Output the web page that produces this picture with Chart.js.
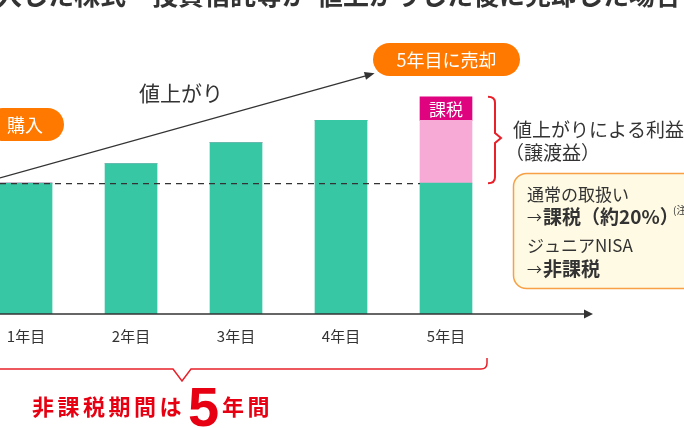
<!DOCTYPE html>
<html>
<head>
<meta charset="utf-8">
<script src="https://cdn.jsdelivr.net/npm/chart.js@4"></script>
<style>
  html, body { margin: 0; padding: 0; background: #fff; }
  #wrap { width: 684px; height: 428px; }
</style>
</head>
<body>
<div id="wrap"><canvas id="nisa-canvas" width="684" height="428"></canvas></div>
<script>
var years = [1, 2, 3, 4, 5];
var yearLabels = ["1年目", "2年目", "3年目", "4年目", "5年目"];
var principal = [100, 115, 131, 148, 100];   // 緑の棒
var gain = [0, 0, 0, 0, 48];                 // 値上がり益（ピンク）
var taxTag = [0, 0, 0, 0, 18];               // 「課税」の帯

var JP = '"Noto Sans CJK JP", "Noto Sans", sans-serif';

function pts(arr) {
    return years.map(function(x, i) { return { x: x, y: arr[i] }; });
}

function pill(ctx, x, y, w, h, text, size) {
    ctx.fillStyle = '#ff7800';
    ctx.beginPath();
    ctx.roundRect(x, y, w, h, h / 2);
    ctx.fill();
    ctx.fillStyle = '#fff';
    ctx.font = size + 'px ' + JP;
    ctx.textAlign = 'center';
    ctx.textBaseline = 'middle';
    ctx.fillText(text, x + w / 2, y + h / 2 + 1);
}

var decor = {
    id: 'decor',
    afterDatasetsDraw: function(chart) {
        var ctx = chart.ctx;
        var xs = chart.scales.x, ys = chart.scales.y;
        var area = chart.chartArea;
        var base = ys.getPixelForValue(0);
        var x5 = xs.getPixelForValue(5);
        ctx.save();

        // 購入価格の破線
        ctx.strokeStyle = '#333';
        ctx.lineWidth = 1.2;
        ctx.setLineDash([6, 5]);
        ctx.beginPath();
        ctx.moveTo(area.left, ys.getPixelForValue(principal[0]) + 0.5);
        ctx.lineTo(x5 - 26, ys.getPixelForValue(principal[0]) + 0.5);
        ctx.stroke();
        ctx.setLineDash([]);

        // 横軸と矢印
        ctx.lineWidth = 1.5;
        ctx.beginPath();
        ctx.moveTo(area.left, base);
        ctx.lineTo(585, base);
        ctx.stroke();
        ctx.fillStyle = '#333';
        ctx.beginPath();
        ctx.moveTo(593, base);
        ctx.lineTo(584, base - 4.5);
        ctx.lineTo(584, base + 4.5);
        ctx.closePath();
        ctx.fill();

        // 値上がりの矢印
        var sx = area.left, sy = ys.getPixelForValue(104);
        var ex = xs.getPixelForValue(4.32), ey = ys.getPixelForValue(184);
        ctx.lineWidth = 1.3;
        ctx.beginPath();
        ctx.moveTo(sx, sy);
        ctx.lineTo(ex - 8, ey + 2.3);
        ctx.stroke();
        var ang = Math.atan2(ey - sy, ex - sx);
        ctx.beginPath();
        ctx.moveTo(ex, ey);
        ctx.lineTo(ex - 10 * Math.cos(ang) + 4 * Math.sin(ang), ey - 10 * Math.sin(ang) - 4 * Math.cos(ang));
        ctx.lineTo(ex - 10 * Math.cos(ang) - 4 * Math.sin(ang), ey - 10 * Math.sin(ang) + 4 * Math.cos(ang));
        ctx.closePath();
        ctx.fill();

        ctx.font = '21px ' + JP;
        ctx.textAlign = 'center';
        ctx.textBaseline = 'middle';
        ctx.fillText('値上がり', 181, 93);

        // ラベル
        pill(ctx, -14, 108, 78, 33, '購入', 18);
        pill(ctx, x5 - 73, 43, 147, 33, '5年目に売却', 18);

        // 課税の文字
        var tagTop = ys.getPixelForValue(principal[4] + gain[4] + taxTag[4]);
        var tagBot = ys.getPixelForValue(principal[4] + gain[4]);
        ctx.fillStyle = '#fff';
        ctx.font = '17px ' + JP;
        ctx.fillText('課税', x5, (tagTop + tagBot) / 2 + 1);

        // 右側の中かっこ
        var bTop = tagTop, bBot = ys.getPixelForValue(principal[4]);
        var bMid = (bTop + bBot) / 2 - 2;
        var bx = x5 + 49;
        ctx.strokeStyle = '#e8202a';
        ctx.lineWidth = 2;
        ctx.beginPath();
        ctx.moveTo(bx - 7, bTop);
        ctx.quadraticCurveTo(bx, bTop, bx, bTop + 6);
        ctx.lineTo(bx, bMid - 5);
        ctx.lineTo(bx + 6, bMid);
        ctx.lineTo(bx, bMid + 5);
        ctx.lineTo(bx, bBot - 6);
        ctx.quadraticCurveTo(bx, bBot, bx - 7, bBot);
        ctx.stroke();

        ctx.fillStyle = '#333';
        ctx.textAlign = 'left';
        ctx.font = '19px ' + JP;
        ctx.fillText('値上がりによる利益', 513, 130);
        ctx.fillText('（譲渡益）', 505, 153);

        // 説明ボックス
        ctx.fillStyle = '#fffae3';
        ctx.strokeStyle = '#f7a045';
        ctx.lineWidth = 1.5;
        ctx.beginPath();
        ctx.roundRect(513.5, 173.5, 200, 115, 13);
        ctx.fill();
        ctx.stroke();

        ctx.fillStyle = '#333';
        ctx.font = '17px ' + JP;
        ctx.fillText('通常の取扱い', 527, 195);
        ctx.fillText('ジュニアNISA', 527, 246);
        ctx.font = '15px ' + JP;
        ctx.fillText('→', 527, 217);
        ctx.fillText('→', 527, 269);
        ctx.font = 'bold 19px ' + JP;
        ctx.fillText('課税（約20%）', 543, 217);
        ctx.fillText('非課税', 543, 269);
        ctx.font = '10px ' + JP;
        ctx.fillText('(注', 673, 210);

        // 下の中かっこ
        var ry = 369;
        ctx.strokeStyle = '#e8202a';
        ctx.lineWidth = 1.5;
        ctx.beginPath();
        ctx.moveTo(area.left, ry);
        ctx.lineTo(173, ry);
        ctx.lineTo(182, ry + 12);
        ctx.lineTo(191, ry);
        ctx.lineTo(481, ry);
        ctx.quadraticCurveTo(487, ry, 487, ry - 6);
        ctx.lineTo(487, ry - 11);
        ctx.stroke();

        ctx.fillStyle = '#e60012';
        ctx.textBaseline = 'alphabetic';
        ctx.font = 'bold 22px ' + JP;
        ctx.letterSpacing = '3.5px';
        ctx.fillText('非課税期間は', 32, 415);
        ctx.fillText('年間', 222, 415);
        ctx.letterSpacing = '0px';
        ctx.font = 'bold 56px "Liberation Sans", Arial, sans-serif';
        ctx.fillText('5', 188, 426);

        // 見出し（上端で切れている）
        ctx.fillStyle = '#333';
        ctx.font = 'bold 26px ' + JP;
        ctx.fillText('購入した株式・投資信託等が', -30, 5);
        ctx.fillText('値上がりした後に売却した場合', 317, 5);

        ctx.restore();
    }
};

document.addEventListener("DOMContentLoaded", function() {
    var ctx = document.getElementById("nisa-canvas").getContext('2d');
    var chart = new Chart(ctx, {
        type: 'bar',
        data: {
            datasets: [{
                label: '購入価格',
                data: pts(principal),
                backgroundColor: '#38c7a5',
                barThickness: 52
            }, {
                label: '値上がり益',
                data: pts(gain),
                backgroundColor: '#f8aad7',
                barThickness: 52
            }, {
                label: '課税',
                data: pts(taxTag),
                backgroundColor: '#e0037f',
                barThickness: 52
            }]
        },
        options: {
            responsive: false,
            animation: false,
            layout: { padding: { left: 0, right: 0, top: 0, bottom: 84 } },
            plugins: {
                legend: { display: false },
                tooltip: { enabled: false }
            },
            scales: {
                x: {
                    type: 'linear',
                    stacked: true,
                    offset: false,
                    min: 0.752,
                    max: 7.267,
                    grid: { display: false, drawTicks: false, offset: false },
                    border: { display: false },
                    afterBuildTicks: function(scale) {
                        scale.ticks = years.map(function(v) { return { value: v }; });
                    },
                    afterFit: function(scale) {
                        scale.height = 30;
                        scale.paddingLeft = 0;
                        scale.paddingRight = 0;
                    },
                    ticks: {
                        autoSkip: false,
                        maxRotation: 0,
                        padding: 13,
                        color: '#333',
                        font: { size: 15, family: JP },
                        callback: function(v) { return yearLabels[v - 1]; }
                    }
                },
                y: {
                    stacked: true,
                    display: false,
                    min: 0,
                    max: 240
                }
            }
        },
        plugins: [decor]
    });
});
</script>
</body>
</html>
